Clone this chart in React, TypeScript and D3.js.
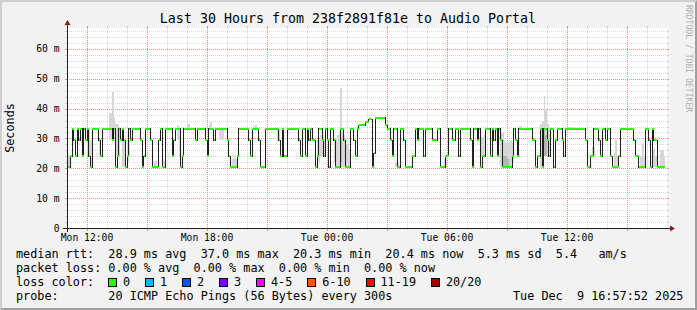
import React from 'react';
import * as d3 from 'd3';

// ---------- data ----------
const A = 33.3;
const B = 29.4;
const C = 24.1;
const D = 20.3;

// median rtt (ms), run-length as [value, number of 5-minute samples], starting Mon 11:00
const medianRuns: [number, number][] = [
  [D, 2], [C, 1], [A, 1], [B, 1], [C, 1], [A, 1], [B, 1], [A, 1], [C, 1], [A, 1], [B, 1], [A, 1], [C, 1], [D, 1],
  [A, 4], [B, 1], [C, 1], [A, 6], [B, 1], [A, 1], [D, 1], [C, 1], [A, 1], [B, 1], [A, 1], [B, 1], [D, 1], [C, 1],
  [A, 1], [B, 1], [A, 5], [B, 1], [D, 1], [C, 1], [A, 3], [B, 1], [D, 4], [B, 1], [A, 1], [D, 2], [A, 4], [C, 1],
  [B, 1], [A, 3], [D, 1], [C, 1], [A, 7], [B, 1], [A, 5], [B, 1], [C, 1], [A, 3], [B, 1], [A, 7], [B, 1], [C, 1],
  [D, 4], [C, 1], [A, 6], [B, 1], [C, 1], [A, 4], [B, 1], [D, 3],
  [A, 8], [B, 1], [C, 1], [A, 1], [C, 2], [A, 7], [B, 1], [C, 1], [A, 2], [C, 1], [A, 1], [B, 1], [A, 1], [B, 2],
  [D, 1], [C, 1], [A, 2], [B, 1], [C, 1], [A, 1], [B, 1], [D, 1], [A, 2], [B, 1], [D, 3], [A, 2], [B, 1], [D, 3],
  [A, 2], [B, 1], [C, 1], [A, 1], [34.4, 4], [35.5, 2], [36.5, 2], [D, 1], [25.0, 1], [37.0, 6], [34.4, 1], [A, 2],
  [B, 1], [C, 1], [A, 2], [D, 2], [A, 2], [B, 1], [D, 4], [C, 2], [A, 1], [B, 1], [A, 3], [C, 1], [A, 4], [B, 3],
  [A, 2], [D, 3], [C, 2], [A, 2], [B, 2], [A, 2], [C, 1], [A, 6],
  [B, 1], [D, 1], [A, 2], [B, 1], [A, 1], [D, 1], [C, 2], [A, 3], [C, 1], [A, 1], [B, 1], [A, 1], [C, 1], [A, 1],
  [B, 1], [D, 6], [C, 1], [A, 1], [B, 1], [C, 1], [A, 8], [B, 2], [D, 1], [C, 2], [A, 1], [D, 1], [A, 2], [B, 1],
  [C, 1], [A, 2], [D, 1], [B, 1], [A, 3], [B, 1], [C, 1], [A, 12], [B, 1], [D, 2], [C, 2], [A, 3], [B, 1], [C, 1],
  [A, 2], [B, 1], [A, 2], [C, 1], [D, 4], [C, 1], [A, 8], [B, 1], [C, 2], [D, 4], [A, 2], [B, 1], [D, 1], [A, 1],
  [B, 2], [D, 5],
];

// smoke: [sample index, lowest ping ms, highest ping ms]
const smokeLight: [number, number, number][] = [
  [0, 20.3, 24.5], [1, 20.3, 24.1], [12, 24.1, 33.3], [13, 24.1, 33.3], [14, 20.3, 29.4], [19, 24.1, 29.4],
  [25, 29.4, 38.5], [26, 29.4, 38.5], [27, 29.4, 45.5], [28, 29.4, 37], [29, 24.1, 35], [30, 24.1, 35],
  [31, 24.1, 34], [33, 20.3, 29.4], [34, 20.3, 29.4], [36, 22, 29.4], [37, 24.1, 29.4], [52, 20.3, 22],
  [53, 20.3, 22.5], [57, 20.3, 23], [58, 20.3, 22.5], [66, 29.4, 34.5], [67, 24.1, 33.3], [72, 33.3, 34.8],
  [73, 33.3, 35], [85, 33.3, 34.5], [86, 33.3, 35.5], [91, 29.4, 33.3], [92, 29.4, 33.3], [93, 29.4, 33.3],
  [99, 20.3, 23], [100, 20.3, 24], [101, 20.3, 23], [112, 33.3, 34.3], [113, 33.3, 34.5], [126, 29, 33.3],
  [127, 29, 33.3], [150, 22, 29.4], [151, 22, 29.4], [152, 24.1, 31], [153, 24.1, 31], [154, 24.1, 30],
  [160, 22, 30], [161, 20.3, 30], [162, 20.3, 31], [163, 20.3, 32], [164, 20.3, 46.8], [165, 20.3, 32],
  [166, 20.3, 31], [167, 20.3, 28], [168, 20.3, 28], [169, 20.3, 26], [197, 20.3, 22], [198, 20.3, 22],
  [226, 20.3, 23], [227, 20.3, 23], [248, 23.8, 30.4], [249, 23.8, 30.4], [250, 24.1, 31], [260, 20.3, 31.8],
  [261, 20.3, 31.8], [262, 20.3, 29.2], [263, 20.3, 28.5], [264, 20.3, 28.4], [265, 20.3, 29], [266, 20.3, 29.4],
  [267, 22, 28.4], [271, 33.3, 34.3], [272, 33.3, 34.3], [284, 20.3, 35], [285, 20.3, 36], [286, 24.1, 44.2],
  [287, 24.1, 40], [288, 24.1, 35], [289, 24.1, 34], [300, 33.3, 34], [301, 33.3, 34], [302, 33.3, 34],
  [303, 33.3, 34], [315, 24.1, 27], [316, 24.1, 27], [328, 20.3, 25], [329, 20.3, 29.4], [330, 20.3, 24],
  [344, 20.3, 24], [345, 20.3, 28.3], [346, 20.3, 24], [351, 20.3, 26], [352, 20.3, 26.7], [353, 20.3, 24],
  [356, 20.3, 26], [357, 20.3, 26], [358, 20.3, 24],
];
const smokeDark: [number, number, number][] = [
  [164, 22, 30], [261, 20.3, 24], [262, 20.3, 24], [263, 20.3, 24], [264, 20.3, 23], [286, 24.1, 33], [287, 24.1, 31],
];

const START_HOUR = 11; // Mon 11:00
const STEP_HOURS = 5 / 60;

const xTickHours = [12, 18, 24, 30, 36];
const xTickLabels = ['Mon 12:00', 'Mon 18:00', 'Tue 00:00', 'Tue 06:00', 'Tue 12:00'];
const yTickValues = [0, 10, 20, 30, 40, 50, 60];
const yTickLabels = ['0', '10 m', '20 m', '30 m', '40 m', '50 m', '60 m'];

const lossLabels = ['0', '1', '2', '3', '4-5', '6-10', '11-19', '20/20'];
const lossColors = ['#26ff00', '#00b8ff', '#0059ff', '#7e00ff', '#ff00ff', '#ff5500', '#ff0000', '#a10000'];

const title = 'Last 30 Hours from 238f2891f81e to Audio Portal';
const legendLines = [
  'median rtt:  28.9 ms avg  37.0 ms max  20.3 ms min  20.4 ms now  5.3 ms sd  5.4   am/s',
  'packet loss: 0.00 % avg  0.00 % max  0.00 % min  0.00 % now',
  'loss color:',
  'probe:       20 ICMP Echo Pings (56 Bytes) every 300s',
];
const dateStamp = 'Tue Dec  9 16:57:52 2025';

// ---------- layout ----------
const W = 697;
const H = 310;
const X0 = 67;
const X1 = 667;
const Y0 = 228;
const Y1 = 28;
const MONO = '"DejaVu Sans Mono", monospace';
const CW = 7.1; // legend char width

export default function App() {
  const x = d3.scaleLinear().domain([START_HOUR, START_HOUR + 30]).range([X0, X1]);
  const y = d3.scaleLinear().domain([0, 67]).range([Y0, Y1]);

  const samples: number[] = medianRuns.flatMap(([v, n]) => Array(n).fill(v));
  const tOf = (i: number) => START_HOUR + i * STEP_HOURS;
  const pts: [number, number][] = samples.map((v, i) => [tOf(i), v]);
  pts.push([tOf(samples.length), samples[samples.length - 1]]);

  const sw = 67 / 200; // one pixel worth of ms
  const line = d3.line<[number, number]>().x(d => x(d[0])).y(d => y(d[1])).curve(d3.curveStepAfter);
  const band = d3
    .area<[number, number]>()
    .x(d => x(d[0]))
    .y0(d => y(d[1] - sw))
    .y1(d => y(d[1] + sw))
    .curve(d3.curveStepAfter);

  const minorY = d3.range(2, 67, 2).filter(v => v % 10 !== 0);
  const majorY = d3.range(10, 67, 10);
  const minorX = d3.range(12, 41, 1).filter(h => h % 3 !== 0);
  const majorX = d3.range(12, 41, 3);

  const gridGray = 'rgba(150,150,150,0.38)';
  const gridRed = '#f08c8c';
  const px = (v: number) => Math.round(v) + 0.5;

  // loss legend layout
  let bx = 108;
  const boxes = lossLabels.map((lab, i) => {
    const item = { x: bx, lab, col: lossColors[i] };
    bx += 15 + lab.length * CW + 14.9;
    return item;
  });

  const legendY = [257.5, 271.5, 285.5, 299.5];

  return (
    <svg
      width={W}
      height={H}
      viewBox={`0 0 ${W} ${H}`}
      style={{ position: 'absolute', left: 0, top: 0, display: 'block' }}
      fontFamily={MONO}
    >
      <rect x={0} y={0} width={W} height={H} fill="#f2f2f2" />
      {/* bevel */}
      <polygon points={`0,0 ${W},0 ${W - 2},2 2,2 2,${H - 2} 0,${H}`} fill="#cfcfcf" />
      <polygon points={`${W},0 ${W},${H} 0,${H} 2,${H - 2} ${W - 2},${H - 2} ${W - 2},2`} fill="#9e9e9e" />

      {/* canvas */}
      <rect x={X0} y={Y1} width={X1 - X0} height={Y0 - Y1} fill="#ffffff" />

      {/* grid */}
      <g strokeWidth={1} shapeRendering="crispEdges">
        {minorY.map(v => (
          <g key={'my' + v}>
            <line x1={X0} x2={X1} y1={px(y(v))} y2={px(y(v))} stroke={gridGray} strokeDasharray="1,1" />
            <line x1={X0 - 2} x2={X0} y1={px(y(v))} y2={px(y(v))} stroke={gridGray} />
            <line x1={X1} x2={X1 + 2} y1={px(y(v))} y2={px(y(v))} stroke={gridGray} />
          </g>
        ))}
        {minorX.map(h => (
          <g key={'mx' + h}>
            <line x1={px(x(h))} x2={px(x(h))} y1={Y1} y2={Y0} stroke={gridGray} strokeDasharray="1,1" />
            <line x1={px(x(h))} x2={px(x(h))} y1={Y1 - 2} y2={Y1} stroke={gridGray} />
            <line x1={px(x(h))} x2={px(x(h))} y1={Y0} y2={Y0 + 2} stroke={gridGray} />
          </g>
        ))}
        {majorY.map(v => (
          <g key={'My' + v}>
            <line x1={X0} x2={X1} y1={px(y(v))} y2={px(y(v))} stroke={gridRed} strokeDasharray="1,1" />
            <line x1={X0 - 2} x2={X0} y1={px(y(v))} y2={px(y(v))} stroke={gridRed} />
            <line x1={X1} x2={X1 + 2} y1={px(y(v))} y2={px(y(v))} stroke={gridRed} />
          </g>
        ))}
        {majorX.map(h => (
          <g key={'Mx' + h}>
            <line x1={px(x(h))} x2={px(x(h))} y1={Y1} y2={Y0} stroke={gridRed} strokeDasharray="1,1" />
            <line x1={px(x(h))} x2={px(x(h))} y1={Y1 - 2} y2={Y1} stroke={gridRed} />
            <line x1={px(x(h))} x2={px(x(h))} y1={Y0} y2={Y0 + 3} stroke={gridRed} />
          </g>
        ))}
      </g>

      {/* smoke */}
      <g shapeRendering="crispEdges">
        {smokeLight.map(([i, lo, hi]) => (
          <rect
            key={'s' + i}
            x={x(tOf(i))}
            width={x(tOf(i + 1)) - x(tOf(i))}
            y={y(hi)}
            height={y(lo) - y(hi)}
            fill="#d6d6d6"
          />
        ))}
        {smokeDark.map(([i, lo, hi]) => (
          <rect
            key={'d' + i}
            x={x(tOf(i))}
            width={x(tOf(i + 1)) - x(tOf(i))}
            y={y(hi)}
            height={y(lo) - y(hi)}
            fill="#b4b4b4"
          />
        ))}
      </g>

      {/* median */}
      <path d={line(pts) || ''} fill="none" stroke="#202020" strokeWidth={1} shapeRendering="crispEdges" />
      <path d={band(pts) || ''} fill={lossColors[0]} shapeRendering="crispEdges" />

      {/* axes */}
      <g shapeRendering="crispEdges" stroke="#1f1f1f" strokeWidth={1}>
        <line x1={X0 - 4} x2={X1 + 4} y1={Y0 + 0.5} y2={Y0 + 0.5} />
        <line x1={X0 + 0.5} x2={X0 + 0.5} y1={Y0 + 4} y2={Y1 - 4} />
      </g>
      <polygon points={`${X1 + 3},${Y0 - 2.5} ${X1 + 3},${Y0 + 3.5} ${X1 + 8},${Y0 + 0.5}`} fill="#802020" />
      <polygon points={`${X0 - 2.5},${Y1 - 3} ${X0 + 3.5},${Y1 - 3} ${X0 + 0.5},${Y1 - 8}`} fill="#802020" />

      {/* y labels */}
      <g fontSize={9.7} fill="#000" textAnchor="end">
        {yTickValues.map((v, i) => (
          <text key={'yl' + v} x={59.5} y={y(v) + 3.5}>
            {yTickLabels[i]}
          </text>
        ))}
      </g>
      {/* x labels */}
      <g fontSize={9.7} fill="#000" textAnchor="middle">
        {xTickHours.map((h, i) => (
          <text key={'xl' + h} x={x(h)} y={240.7}>
            {xTickLabels[i]}
          </text>
        ))}
      </g>

      {/* title */}
      <text x={348} y={23.3} fontSize={13.3} textAnchor="middle" fill="#000">
        {title}
      </text>
      {/* y axis title */}
      <text transform={`translate(14,128) rotate(-90)`} fontSize={11.8} textAnchor="middle" fill="#000">
        Seconds
      </text>
      {/* watermark */}
      <text transform={`translate(685.5,5) rotate(90)`} fontSize={8.1} fill="#b0b0b0">
        RRDTOOL / TOBI OETIKER
      </text>

      {/* legend */}
      <g fontSize={11.8} fill="#000" style={{ whiteSpace: 'pre' }}>
        {legendLines.map((s, i) => (
          <text key={'lg' + i} x={16} y={legendY[i]} xmlSpace="preserve">
            {s}
          </text>
        ))}
        <text x={513} y={legendY[3]} xmlSpace="preserve">
          {dateStamp}
        </text>
        {boxes.map(b => (
          <g key={'b' + b.lab}>
            <rect x={b.x + 0.5} y={278.5} width={8} height={8} fill={b.col} stroke="#000" strokeWidth={1} shapeRendering="crispEdges" />
            <text x={b.x + 15} y={legendY[2]}>
              {b.lab}
            </text>
          </g>
        ))}
      </g>
    </svg>
  );
}
